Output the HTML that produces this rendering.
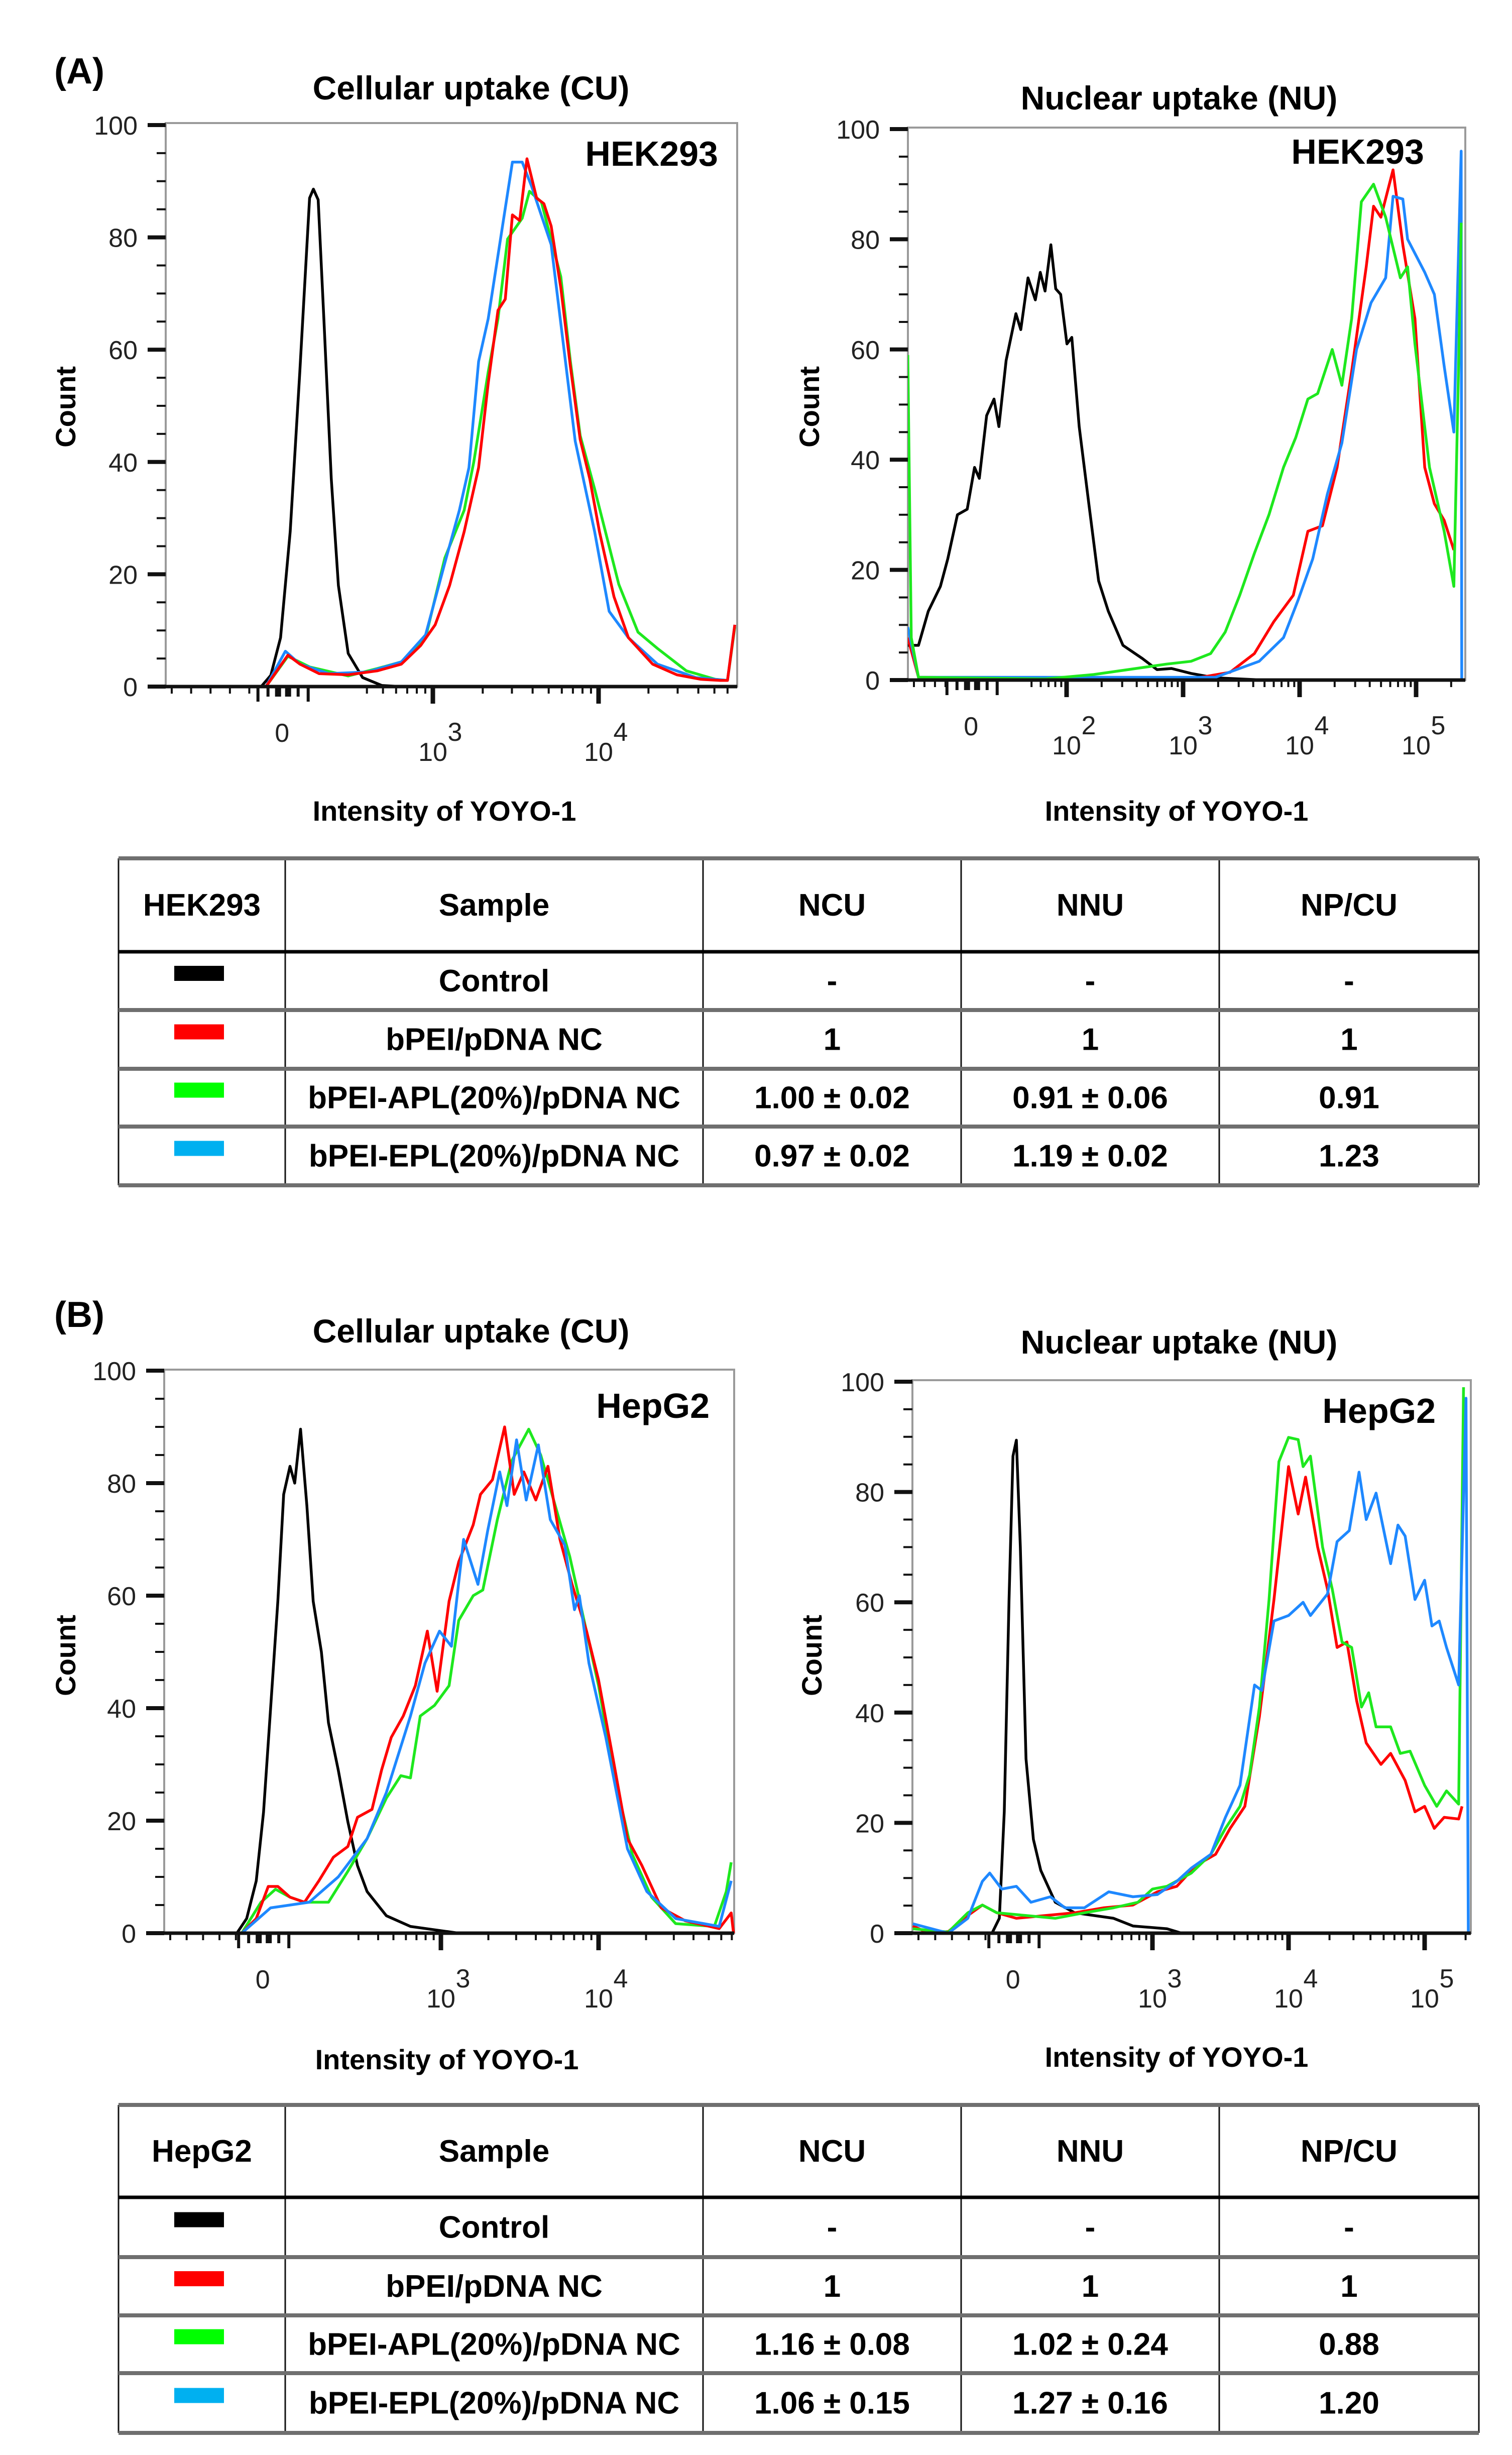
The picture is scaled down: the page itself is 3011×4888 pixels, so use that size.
<!DOCTYPE html>
<html><head><meta charset="utf-8">
<style>
html,body{margin:0;padding:0;background:#fff;}
svg{display:block;font-family:"Liberation Sans",Arial,sans-serif;}
</style></head>
<body>
<svg id="fig" width="3011" height="4888" viewBox="0 0 3011 4888" xmlns="http://www.w3.org/2000/svg">
<rect x="0" y="0" width="3011" height="4888" fill="#fff"/>
<g id="plots"></g>
<g id="tables"></g>
</svg>
<script>
// ===== Panel A, Cellular uptake (x in log-decade units, y counts) =====
const aCuBlackS=[1.39,1.964,2.022,2.081,2.139,2.197,2.256,2.279,2.308,2.343,2.387,2.430,2.489,2.576,2.692,2.81,4.82];
const aCuBlackC=[0,0,2,8.7,27.6,56,87,88.6,86.7,65,37,18,5.9,1.6,0.2,0,0];
const aCuGreenS=[1.39,1.993,2.125,2.256,2.489,2.664,2.810,2.956,3.072,3.189,3.247,3.334,3.393,3.451,3.539,3.583,3.655,3.772,3.830,3.889,3.976,4.122,4.238,4.355,4.530,4.705,4.778,4.822];
const aCuGreenC=[0,0,5.4,3.5,1.9,3.2,4.4,8.7,22.9,31.4,40,56,65.5,79.7,83.4,88.2,86.3,73,57.9,44.7,35.2,18.2,9.7,6.8,2.8,1.3,1.1,10.6];
const aCuBlueS=[1.39,1.993,2.110,2.198,2.373,2.606,2.810,2.956,3.072,3.160,3.218,3.276,3.334,3.393,3.480,3.539,3.597,3.714,3.859,3.976,4.064,4.180,4.355,4.588,4.778,4.822];
const aCuBlueC=[0,0,6.3,4,2.3,2.6,4.4,9.2,22,31.4,39,57.9,65.5,76.8,93.4,93.4,89,78.7,43.7,27.6,13.4,8.7,4,1.6,1.1,11];
const aCuRedS=[1.39,1.993,2.125,2.198,2.314,2.489,2.664,2.810,2.926,3.014,3.101,3.189,3.276,3.334,3.393,3.437,3.480,3.524,3.568,3.626,3.670,3.714,3.772,3.830,3.889,3.947,4.005,4.093,4.180,4.326,4.472,4.617,4.734,4.778,4.822];
const aCuRedC=[0,0,5.6,4,2.3,2.1,2.8,4,7.3,11,18,27.6,39,54,67,69,84,83,94,87,86,82,71,57,44,37,27.6,16,8.7,4,2.1,1.3,1.1,1.1,11];
// ===== Panel A, Nuclear uptake =====
const aNuBlackS=[0.637,0.729,0.813,0.917,0.980,1.063,1.147,1.210,1.251,1.314,1.377,1.419,1.481,1.565,1.607,1.669,1.732,1.774,1.815,1.865,1.907,1.949,2.003,2.045,2.108,2.191,2.275,2.358,2.484,2.651,2.776,2.901,3.068,3.277,3.486,3.695,5.42];
const aNuBlackC=[6.3,6.3,12.5,17,22,30,31,38.6,36.6,48,51,46,58,66.5,63.6,73,69,74,70.6,79,71,70,61,62.2,46,32,18,12.5,6.3,3.9,1.9,2.1,1.2,0.4,0.2,0,0];
const aNuGreenS=[0.637,0.667,0.729,1.815,2.233,2.860,3.068,3.236,3.361,3.486,3.612,3.737,3.862,3.967,4.071,4.155,4.280,4.363,4.447,4.530,4.635,4.739,4.865,4.927,4.990,5.115,5.241,5.324,5.366,5.387];
const aNuGreenC=[59,7.7,0.5,0.2,1,2.9,3.4,4.8,8.7,15.4,23,30,38.6,44,51,52,60,53.5,65.6,86.8,90,84,73,75,61,38.6,27,17,58,83];
const aNuRedS=[0.637,0.729,3.068,3.403,3.612,3.779,3.946,4.071,4.196,4.322,4.447,4.572,4.635,4.698,4.802,4.886,4.990,5.074,5.157,5.241,5.324];
const aNuRedC=[7.7,0.5,0.2,1.4,4.8,10.6,15.4,27,28,38.6,56,75,86,84,92.6,79,65.6,38.6,32,29,23.6];
const aNuBlueS=[0.637,0.729,3.277,3.653,3.862,3.987,4.113,4.238,4.363,4.489,4.614,4.739,4.802,4.886,4.927,5.074,5.157,5.241,5.324,5.387,5.392];
const aNuBlueC=[9.6,0.5,0.5,3.4,7.7,14.5,22,33.7,43,60,68.5,73,87.8,87.3,80,74,70,57,45,96,0];
// ===== Panel B, Cellular uptake =====
const bCuBlackS=[1.248,1.706,1.768,1.829,1.875,1.920,1.966,2.003,2.043,2.073,2.110,2.150,2.190,2.242,2.287,2.349,2.410,2.471,2.532,2.654,2.807,2.960,3.113,4.856];
const bCuBlackC=[0,0,2.6,9.3,21.5,40,59,78,83,80,89.6,76,59,50,37.4,29,19.8,12,7.4,3.1,1.2,0.6,0,0];
const bCuGreenS=[1.248,1.737,1.859,1.951,2.043,2.135,2.287,2.410,2.532,2.654,2.746,2.807,2.869,2.960,3.052,3.113,3.205,3.266,3.358,3.450,3.557,3.633,3.725,3.817,3.908,4.000,4.092,4.214,4.336,4.489,4.734,4.810,4.841];
const bCuGreenC=[0,0,5.5,7.8,6.4,5.5,5.5,11,16.8,24,28,27.6,38.6,40.5,44,55.6,60,61,73.5,84,89.6,85,76,67,55.6,44,29,14,6.4,1.7,1.2,7.4,12.6];
const bCuBlueS=[1.248,1.737,1.920,2.043,2.165,2.349,2.532,2.654,2.807,2.899,2.991,3.067,3.144,3.235,3.297,3.373,3.419,3.480,3.541,3.618,3.694,3.786,3.847,3.878,3.939,4.046,4.183,4.306,4.489,4.765,4.841];
const bCuBlueC=[0,0,4.5,5,5.5,10,16.8,25,38.6,48,53.7,51,70,62,71.6,82,76,87.7,77,86.8,73.5,69,57.5,60,48,34.8,15,7.4,2.6,1.2,9.3];
const bCuRedS=[1.248,1.737,1.829,1.905,1.966,2.043,2.135,2.226,2.318,2.410,2.471,2.563,2.624,2.685,2.761,2.838,2.914,2.976,3.052,3.113,3.205,3.251,3.327,3.404,3.465,3.526,3.602,3.679,3.755,3.832,3.924,4.000,4.092,4.183,4.275,4.398,4.550,4.765,4.841,4.856];
const bCuRedC=[0,0,2.6,8.3,8.3,6.4,5.5,9.3,13.5,15.4,20.6,22,29,34.8,38.6,44,53.7,43,59,66,72.6,78,80.6,90,78,82,77,83,70,62,53.7,45,31,16.8,12,4.5,2.2,0.8,3.6,0];
// ===== Panel B, Nuclear uptake =====
const bNuBlackS=[1.239,1.821,1.875,1.911,1.946,1.975,2.000,2.029,2.071,2.125,2.179,2.286,2.429,2.714,2.857,3.107,3.214,5.34];
const bNuBlackC=[0,0,2.7,22,60.5,86.5,89.4,70,31.6,17,11.4,5.6,3.7,2.7,1.3,0.8,0,0];
const bNuGreenS=[1.239,1.500,1.643,1.750,1.857,2.071,2.286,2.500,2.714,2.893,3.000,3.107,3.286,3.429,3.536,3.643,3.714,3.786,3.857,3.929,4.000,4.071,4.107,4.161,4.250,4.321,4.393,4.464,4.536,4.589,4.643,4.750,4.821,4.893,5.000,5.089,5.161,5.250,5.286];
const bNuGreenC=[0.8,0.2,3.7,5.1,3.7,3.2,2.7,3.7,4.6,5.6,8,8.5,10.9,14.3,19,23,28.7,41,60.5,85.5,89.9,89.5,84.6,86.5,70,62.4,52.8,51.8,41,43.6,37.4,37.4,32.6,33,26.8,23,25.8,23.4,99];
const bNuRedS=[1.239,1.357,1.500,1.643,1.750,1.857,2.000,2.214,2.429,2.643,2.857,3.036,3.179,3.321,3.464,3.571,3.679,3.786,3.893,4.000,4.071,4.125,4.214,4.286,4.357,4.429,4.500,4.571,4.679,4.750,4.857,4.929,5.000,5.071,5.143,5.250,5.275];
const bNuRedC=[1.3,0,0.3,3.2,5.1,3.7,2.7,3.2,3.7,4.6,5.1,7.5,8.5,12.3,14.3,19,23,39.3,60.5,84.6,76,82.7,70,62.4,51.8,52.8,42.2,34.5,30.6,32.6,27.7,22,23,19,21,20.7,23];
const bNuBlueS=[1.239,1.500,1.643,1.750,1.804,1.893,2.000,2.107,2.250,2.357,2.500,2.679,2.857,3.036,3.179,3.286,3.429,3.536,3.643,3.750,3.804,3.893,4.000,4.107,4.161,4.286,4.357,4.446,4.518,4.571,4.643,4.750,4.804,4.857,4.929,5.000,5.054,5.107,5.161,5.250,5.304,5.321];
const bNuBlueC=[1.7,0,2.7,9.4,10.9,8,8.5,5.6,6.6,4.6,4.6,7.5,6.6,7,9.4,11.8,14.3,21,26.8,45,44,56.6,57.6,60,57.6,61.5,71,73,83.6,75,79.8,67,74,72,60.5,64,55.7,56.6,51.8,45,97,0];
// ===== Axis tick data =====
const yTickValues=[0,20,40,60,80,100];
const aCuDecades=[3,4];
const aNuDecades=[2,3,4,5];
const bCuDecades=[3,4];
const bNuDecades=[3,4,5];
// ===== Table data =====
const tableSamples=["Control","bPEI/pDNA NC","bPEI-APL(20%)/pDNA NC","bPEI-EPL(20%)/pDNA NC"];
const tableAncu=["-","1","1.00 \u00b1 0.02","0.97 \u00b1 0.02"];
const tableAnnu=["-","1","0.91 \u00b1 0.06","1.19 \u00b1 0.02"];
const tableAnpcu=["-","1","0.91","1.23"];
const tableBncu=["-","1","1.16 \u00b1 0.08","1.06 \u00b1 0.15"];
const tableBnnu=["-","1","1.02 \u00b1 0.24","1.27 \u00b1 0.16"];
const tableBnpcu=["-","1","0.88","1.20"];

const NS="http://www.w3.org/2000/svg";
function mk(tag,attrs,parent){const e=document.createElementNS(NS,tag);for(const k in attrs)e.setAttribute(k,attrs[k]);if(parent)parent.appendChild(e);return e;}

const COL={black:"#000",red:"#ff0000",green:"#1ee81e",blue:"#1e88ff"};

function drawPlot(cfg){
  const root=document.getElementById('plots');
  const g=mk('g',{},root);
  
  
  const sx=s=>cfg.anchorPx+(s-cfg.anchorS)*cfg.decPx;
  const sy=v=>cfg.y0-v*cfg.yPer;
  const L=cfg.left,R=cfg.right,T=cfg.top,B=cfg.y0;
  const fr=mk('rect',{x:L,y:T,width:R-L,height:B-T,fill:'none',stroke:'#9a9a9a','stroke-width':4},g);
  
  
  const cid=cfg.name+'-clip';
  const cp=mk('clipPath',{id:cid},g);mk('rect',{x:L,y:T-60,width:R-L+4,height:B-T+62},cp);
  cfg.series.forEach(sr=>{
    let d='';
    for(let i=0;i<sr.s.length;i++){d+=(i?'L':'M')+sx(sr.s[i]).toFixed(1)+','+sy(sr.c[i]).toFixed(1);}
    const p=mk('path',{d:d,fill:'none',stroke:COL[sr.color],'stroke-width':5.5,'stroke-linejoin':'round','clip-path':'url(#'+cid+')'},g);
    
    
  });
  for(let v=0;v<=100;v+=5){
    const major=(v%20===0);
    const t=mk('line',{x1:L-(major?36:18),x2:L,y1:sy(v),y2:sy(v),stroke:'#111','stroke-width':major?8:4},g);
    
    
  }
  yTickValues.forEach(v=>{
    const t=mk('text',{x:L-56,y:sy(v)+19,'text-anchor':'end','font-size':52,fill:'#222'},g);
    t.textContent=String(v);
    
    
  });
  const ax=mk('line',{x1:L-36,x2:R,y1:B,y2:B,stroke:'#111','stroke-width':7},g);
  
  
  const z=sx(cfg.sZero);
  for(let x=L+12;x<z-50;x+=(z-L)/6){
    const t=mk('line',{x1:x,x2:x,y1:B,y2:B+14,stroke:'#111','stroke-width':4},g);
    
    
  }
  [-48,-28,-8,12,32,52].forEach((o,i)=>{
    const t=mk('line',{x1:z+o,x2:z+o,y1:B,y2:B+(i%5===0?30:20),stroke:'#111','stroke-width':(i===2||i===3)?12:6},g);
    
    
  });
  for(let d=Math.floor(cfg.sZero);d<=6;d++){
    for(let k=1;k<=9;k++){
      const s=d+Math.log10(k);
      const x=sx(s);
      if(s<cfg.sZero+0.45||x>R-4)continue;
      const t=mk('line',{x1:x,x2:x,y1:B,y2:B+(k===1?34:14),stroke:'#111','stroke-width':k===1?9:4},g);
      
      
    }
  }
  const zl=mk('text',{x:z,y:B+110,'text-anchor':'middle','font-size':52,fill:'#222'},g);
  zl.textContent='0';
  
  
  cfg.decades.forEach(d=>{
    const x=sx(d);
    const t=mk('text',{x:x,y:B+148,'text-anchor':'middle','font-size':52,fill:'#222'},g);
    t.textContent='10';
    
    
    const e=mk('text',{x:x+44,y:B+108,'text-anchor':'middle','font-size':52,fill:'#222'},g);
    e.textContent=String(d);
    
    
  });
  const tt=mk('text',{x:cfg.titleX,y:cfg.titleY,'text-anchor':'middle','font-size':66,'font-weight':'bold',fill:'#000'},g);
  tt.textContent=cfg.title;
  
  
  const cl=mk('text',{x:cfg.cellX,y:cfg.cellY,'text-anchor':'end','font-size':70,'font-weight':'bold',fill:'#000'},g);
  cl.textContent=cfg.cell;
  
  
  const yl=mk('text',{x:0,y:0,'text-anchor':'middle','font-size':56,'font-weight':'bold',fill:'#000',transform:'translate('+(cfg.countX+20)+','+cfg.countY+') rotate(-90)'},g);
  yl.textContent='Count';
  
  
  const xl=mk('text',{x:cfg.xlabX,y:cfg.xlabY+20,'text-anchor':'middle','font-size':56,'font-weight':'bold',fill:'#000'},g);
  xl.textContent='Intensity of YOYO-1';
  
  
}

drawPlot({name:'a-cellular-uptake-plot',left:330,right:1468,top:245,y0:1367,yPer:11.18,anchorS:3,anchorPx:862,decPx:330,sZero:2.09,decades:aCuDecades,
  title:'Cellular uptake (CU)',titleX:938,titleY:198,cell:'HEK293',cellX:1430,cellY:330,countX:130,countY:810,xlabX:885,xlabY:1614,
  series:[{s:aCuBlackS,c:aCuBlackC,color:'black'},{s:aCuGreenS,c:aCuGreenC,color:'green'},{s:aCuBlueS,c:aCuBlueC,color:'blue'},{s:aCuRedS,c:aCuRedC,color:'red'}]});
drawPlot({name:'a-nuclear-uptake-plot',left:1808,right:2918,top:254,y0:1354,yPer:10.97,anchorS:4,anchorPx:2588,decPx:232,sZero:1.18,decades:aNuDecades,
  title:'Nuclear uptake (NU)',titleX:2348,titleY:218,cell:'HEK293',cellX:2836,cellY:326,countX:1611,countY:810,xlabX:2343,xlabY:1614,
  series:[{s:aNuBlackS,c:aNuBlackC,color:'black'},{s:aNuRedS,c:aNuRedC,color:'red'},{s:aNuBlueS,c:aNuBlueC,color:'blue'},{s:aNuGreenS,c:aNuGreenC,color:'green'}]});
drawPlot({name:'b-cellular-uptake-plot',left:327,right:1462,top:2727,y0:3849,yPer:11.2,anchorS:3,anchorPx:878,decPx:314,sZero:1.87,decades:bCuDecades,
  title:'Cellular uptake (CU)',titleX:938,titleY:2673,cell:'HepG2',cellX:1413,cellY:2823,countX:130,countY:3296,xlabX:890,xlabY:4100,
  series:[{s:bCuBlackS,c:bCuBlackC,color:'black'},{s:bCuGreenS,c:bCuGreenC,color:'green'},{s:bCuRedS,c:bCuRedC,color:'red'},{s:bCuBlueS,c:bCuBlueC,color:'blue'}]});
drawPlot({name:'b-nuclear-uptake-plot',left:1817,right:2929,top:2748,y0:3849,yPer:10.98,anchorS:4,anchorPx:2566,decPx:271,sZero:1.975,decades:bNuDecades,
  title:'Nuclear uptake (NU)',titleX:2348,titleY:2695,cell:'HepG2',cellX:2859,cellY:2833,countX:1616,countY:3296,xlabX:2343,xlabY:4095,
  series:[{s:bNuBlackS,c:bNuBlackC,color:'black'},{s:bNuRedS,c:bNuRedC,color:'red'},{s:bNuGreenS,c:bNuGreenC,color:'green'},{s:bNuBlueS,c:bNuBlueC,color:'blue'}]});

(function(){
  const root=document.getElementById('plots');
  const a=mk('text',{x:108,y:166,'font-size':72,'font-weight':'bold',fill:'#000'},root);
  a.textContent='(A)';
  
  
  const b=mk('text',{x:108,y:2642,'font-size':72,'font-weight':'bold',fill:'#000'},root);
  b.textContent='(B)';
  
  
})();

function drawTable(name,top,rowLines,cell,ncu,nnu,npcu){
  const root=document.getElementById('tables');
  const g=mk('g',{},root);
  
  
  const cols=[236,568,1400,1914,2428,2945];
  const ys=[top].concat(rowLines);
  const bottom=ys[ys.length-1];
  cols.forEach(x=>{
    const l=mk('line',{x1:x,x2:x,y1:top,y2:bottom,stroke:'#111','stroke-width':3},g);
    
    
  });
  ys.forEach((y,i)=>{
    const l=mk('line',{x1:236,x2:2945,y1:y,y2:y,stroke:i===1?'#000':'#6f6f6f','stroke-width':i===1?7:8},g);
    
    
  });
  const cx=cols.slice(0,5).map((c,i)=>(c+cols[i+1])/2);
  const header=[cell,'Sample','NCU','NNU','NP/CU'];
  const hy=(ys[0]+ys[1])/2;
  header.forEach((h,i)=>{
    const t=mk('text',{x:cx[i],y:hy+21,'text-anchor':'middle','font-size':62,'font-weight':'bold',fill:'#000'},g);
    t.textContent=h;
    
    
  });
  const sw=['#000','#ff0000','#00ff00','#00b0f0'];
  for(let r=0;r<4;r++){
    const yc=(ys[r+1]+ys[r+2])/2;
    const s=mk('rect',{x:347,y:yc-30,width:99,height:30,fill:sw[r]},g);
    
    
    const vals=[tableSamples[r],ncu[r],nnu[r],npcu[r]];
    vals.forEach((v,i)=>{
      const t=mk('text',{x:cx[i+1],y:yc+21,'text-anchor':'middle','font-size':62,'font-weight':'bold',fill:'#000'},g);
      t.textContent=v;
      
      
    });
  }
}
drawTable('table-hek293',1709,[1895,2011,2128,2243,2360],'HEK293',tableAncu,tableAnnu,tableAnpcu);
drawTable('table-hepg2',4191,[4375,4494,4610,4725,4844],'HepG2',tableBncu,tableBnnu,tableBnpcu);
</script>
</body></html>
